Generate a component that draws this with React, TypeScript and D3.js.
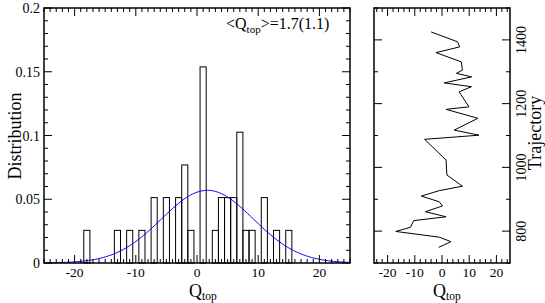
import React from "react";
import * as d3 from "d3";

// Histogram (left panel)
const binCenters = [-18, -13, -11, -9, -7, -5, -3, -2, -1, 1, 3, 4, 5, 6, 7, 8, 9, 11, 13, 15];
const distribution = [
  0.0256, 0.0256, 0.0256, 0.0256, 0.0513, 0.0513, 0.0513, 0.0769, 0.0256, 0.1538,
  0.0256, 0.0513, 0.0513, 0.0513, 0.1026, 0.0256, 0.0256, 0.0513, 0.0256, 0.0256,
];
const binWidth = 1;
// Gaussian fit parameters
const fitMean = 1.7;
const fitSigma = 7.5;
const fitAmp = 0.057;

// Trajectory (right panel)
const trajQ = [
  -4.0, 5.7, 6.5, -2.2, 7.1, 7.5, 5.3, 10.9, 0.8, 10.8, 6.3, 9.9, 1.5, 13.2, 4.5, 13.6,
  -6.4, 1.5, 1.8, 7.5, -1.0, -7.6, -1.0, 0.2, -6.1, 1.5, -10.4, -11.6, -17.0, -1.0, 3.3, -1.2,
];
const trajIndex = [
  1425, 1394, 1378, 1360, 1331, 1305, 1295, 1284, 1265, 1253, 1237, 1190, 1182, 1154, 1117, 1101,
  1088, 1023, 976, 941, 927, 910, 892, 879, 861, 845, 833, 812, 799, 781, 767, 749,
];

const leftXTicks = [-20, -10, 0, 10, 20];
const leftYTicks = [0, 0.05, 0.1, 0.15, 0.2];
const leftYLabels = ["0", "0.05", "0.1", "0.15", "0.2"];
const rightXTicks = [-20, -10, 0, 10, 20];
const rightYTicks = [800, 1000, 1200, 1400];

const FONT = "Liberation Serif, Times New Roman, DejaVu Serif, serif";

export default function App() {
  const top = 8;
  const bottom = 263;
  const L = { x0: 44, x1: 350 };
  const R = { x0: 374, x1: 510 };

  const xL = d3.scaleLinear().domain([-25, 25]).range([L.x0, L.x1]);
  const yL = d3.scaleLinear().domain([0, 0.2]).range([bottom, top]);
  const xR = d3.scaleLinear().domain([-25, 25]).range([R.x0, R.x1]);
  const yR = d3.scaleLinear().domain([700, 1500]).range([bottom, top]);

  const major = 8;
  const minor = 4;

  const gaussPts = d3.range(-25, 25.01, 0.25).map((q) => [
    q,
    fitAmp * Math.exp(-((q - fitMean) ** 2) / (2 * fitSigma * fitSigma)),
  ]);
  const gaussLine = d3
    .line<number[]>()
    .x((d) => xL(d[0]))
    .y((d) => yL(d[1]))(gaussPts);

  const trajLine = d3
    .line<number>()
    .x((_, i) => xR(trajQ[i]))
    .y((_, i) => yR(trajIndex[i]))(trajQ);

  const tickEls: React.ReactNode[] = [];
  d3.range(-25, 25.01, 1).forEach((v, i) => {
    const isMajor = Math.abs(v % 10) < 1e-9;
    const len = isMajor ? major : minor;
    const x = xL(v);
    tickEls.push(<line key={`lxb${i}`} x1={x} x2={x} y1={bottom} y2={bottom - len} stroke="#000" />);
    tickEls.push(<line key={`lxt${i}`} x1={x} x2={x} y1={top} y2={top + len} stroke="#000" />);
  });
  d3.range(0, 0.2001, 0.01).forEach((v, i) => {
    const isMajor = Math.abs(Math.round(v * 100) % 5) === 0;
    const len = isMajor ? major : minor;
    const y = yL(v);
    tickEls.push(<line key={`lyl${i}`} x1={L.x0} x2={L.x0 + len} y1={y} y2={y} stroke="#000" />);
    tickEls.push(<line key={`lyr${i}`} x1={L.x1} x2={L.x1 - len} y1={y} y2={y} stroke="#000" />);
  });
  d3.range(-24, 24.01, 2).forEach((v, i) => {
    const isMajor = Math.abs(v % 10) < 1e-9;
    const len = isMajor ? major : minor;
    const x = xR(v);
    tickEls.push(<line key={`rxb${i}`} x1={x} x2={x} y1={bottom} y2={bottom - len} stroke="#000" />);
    tickEls.push(<line key={`rxt${i}`} x1={x} x2={x} y1={top} y2={top + len} stroke="#000" />);
  });
  d3.range(700, 1500.1, 100).forEach((v, i) => {
    const isMajor = v % 200 === 0;
    const len = isMajor ? major : minor;
    const y = yR(v);
    tickEls.push(<line key={`ryr${i}`} x1={R.x1} x2={R.x1 - len} y1={y} y2={y} stroke="#000" />);
    tickEls.push(<line key={`ryl${i}`} x1={R.x0} x2={R.x0 + len} y1={y} y2={y} stroke="#000" />);
  });

  return (
    <svg
      width={545}
      height={303}
      style={{ position: "absolute", left: 0, top: 0, background: "#fff", fontFamily: FONT }}
    >
      <rect x={0} y={0} width={545} height={303} fill="#fff" />

      {binCenters.map((c, i) => (
        <rect
          key={`bar${i}`}
          x={xL(c - binWidth / 2)}
          y={yL(distribution[i])}
          width={xL(c + binWidth / 2) - xL(c - binWidth / 2)}
          height={yL(0) - yL(distribution[i])}
          fill="none"
          stroke="#000"
          strokeWidth={1}
        />
      ))}

      <path d={gaussLine || ""} fill="none" stroke="#0000ff" strokeWidth={1} />
      <path d={trajLine || ""} fill="none" stroke="#000" strokeWidth={1} />

      {tickEls}

      <rect x={L.x0} y={top} width={L.x1 - L.x0} height={bottom - top} fill="none" stroke="#000" strokeWidth={1.5} />
      <rect x={R.x0} y={top} width={R.x1 - R.x0} height={bottom - top} fill="none" stroke="#000" strokeWidth={1.5} />

      {leftXTicks.map((v) => (
        <text key={`lxl${v}`} x={xL(v)} y={277} fontSize={13.5} textAnchor="middle" fontFamily={FONT}>
          {v}
        </text>
      ))}
      {leftYTicks.map((v, i) => (
        <text key={`lyl${v}`} x={40} y={yL(v) + 5} fontSize={14} textAnchor="end" fontFamily={FONT}>
          {leftYLabels[i]}
        </text>
      ))}

      {rightXTicks.map((v) => (
        <text key={`rxl${v}`} x={xR(v)} y={277} fontSize={13.5} textAnchor="middle" fontFamily={FONT}>
          {v}
        </text>
      ))}
      {rightYTicks.map((v) => (
        <text
          key={`ryl${v}`}
          transform={`translate(526,${yR(v)}) rotate(-90)`}
          fontSize={14}
          textAnchor="middle"
          fontFamily={FONT}
        >
          {v}
        </text>
      ))}

      <text transform="translate(21,136) rotate(-90)" fontSize={18} textAnchor="middle" fontFamily={FONT}>
        Distribution
      </text>
      <text x={189} y={297} fontSize={18} textAnchor="start" fontFamily={FONT}>
        Q<tspan fontSize={11.5} dy={3}>top</tspan>
      </text>
      <text x={433} y={297} fontSize={18} textAnchor="start" fontFamily={FONT}>
        Q<tspan fontSize={11.5} dy={3}>top</tspan>
      </text>
      <text transform="translate(541,133) rotate(-90)" fontSize={18} textAnchor="middle" fontFamily={FONT}>
        Trajectory
      </text>

      <text x={226} y={29} fontSize={16} fontFamily={FONT}>
        {"<Q"}
        <tspan fontSize={11} dy={4}>top</tspan>
        <tspan dy={-4}>{">=1.7(1.1)"}</tspan>
      </text>
    </svg>
  );
}
